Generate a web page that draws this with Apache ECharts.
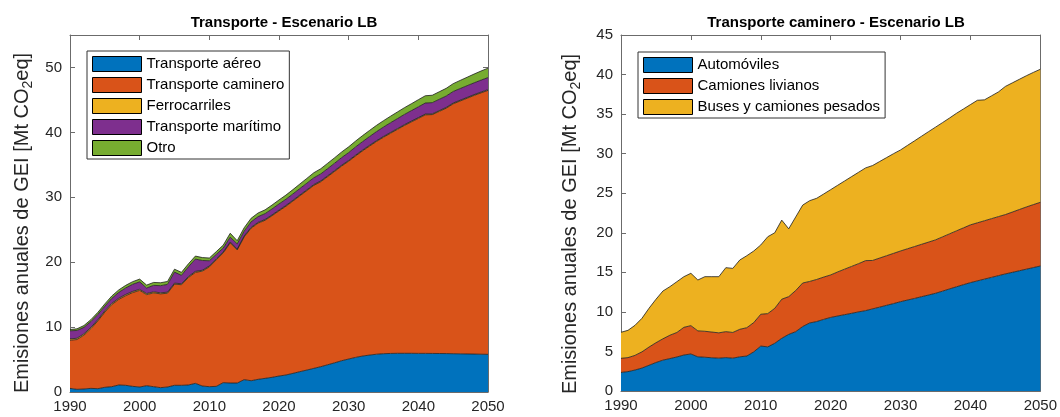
<!DOCTYPE html>
<html>
<head>
<meta charset="utf-8">
<script src="https://cdn.jsdelivr.net/npm/echarts@6/dist/echarts.min.js"></script>
<style>
  html, body { margin: 0; padding: 0; background: #ffffff; }
  #chart { width: 1060px; height: 417px; }
</style>
</head>
<body>
<div id="chart"></div>
<script>
// Years on the horizontal axis (1990 .. 2050, one point per year)
const years = Array.from({ length: 61 }, (_, i) => String(1990 + i));

// ---- Left panel: Transporte - Escenario LB (Mt CO2eq) ----
const transporteAereo = [
  0.56, 0.41, 0.46, 0.56, 0.51, 0.72, 0.82, 1.08, 1.03, 0.87,
  0.77, 0.97, 0.82, 0.67, 0.77, 1.03, 1.03, 1.08, 1.33, 0.92,
  0.82, 0.87, 1.44, 1.38, 1.38, 1.90, 1.74, 1.95, 2.10, 2.26,
  2.46, 2.62, 2.87, 3.13, 3.38, 3.64, 3.90, 4.20, 4.50, 4.82,
  5.08, 5.33, 5.54, 5.69, 5.82, 5.90, 5.94, 5.96, 5.96, 5.96,
  5.95, 5.95, 5.94, 5.93, 5.92, 5.90, 5.88, 5.86, 5.84, 5.82,
  5.80
];
const transporteCaminero = [
  7.42, 7.67, 8.30, 9.19, 10.45, 11.59, 12.64, 13.19, 13.82, 14.45,
  14.88, 14.03, 14.45, 14.45, 14.45, 15.59, 15.50, 16.56, 17.10, 17.70,
  18.46, 19.50, 20.00, 21.60, 20.50, 22.00, 23.50, 24.06, 24.36, 24.90,
  25.45, 26.00, 26.55, 27.10, 27.65, 28.20, 28.50, 29.00, 29.50, 30.00,
  30.47, 31.05, 31.62, 32.20, 32.78, 33.35, 33.92, 34.50, 35.10, 35.65,
  36.20, 36.75, 36.80, 37.30, 37.80, 38.50, 38.95, 39.40, 39.85, 40.27,
  40.67
];
const ferrocarriles = [
  0.20, 0.20, 0.20, 0.20, 0.19, 0.19, 0.19, 0.18, 0.18, 0.18,
  0.17, 0.17, 0.16, 0.16, 0.16, 0.15, 0.15, 0.15, 0.15, 0.14,
  0.14, 0.14, 0.14, 0.13, 0.13, 0.13, 0.13, 0.13, 0.12, 0.12,
  0.12, 0.12, 0.12, 0.12, 0.12, 0.12, 0.12, 0.12, 0.12, 0.12,
  0.12, 0.12, 0.12, 0.12, 0.12, 0.12, 0.12, 0.12, 0.12, 0.12,
  0.12, 0.12, 0.12, 0.12, 0.12, 0.12, 0.12, 0.12, 0.12, 0.12,
  0.12
];
const transporteMaritimo = [
  1.25, 1.20, 1.00, 0.90, 0.80, 0.72, 0.78, 0.90, 1.00, 1.10,
  1.15, 0.85, 1.00, 1.10, 1.20, 1.70, 1.30, 1.50, 1.90, 1.50,
  0.80, 0.70, 0.60, 0.75, 0.80, 0.75, 0.85, 0.88, 0.90, 0.92,
  0.94, 0.96, 0.98, 1.00, 1.02, 1.05, 1.08, 1.11, 1.14, 1.18,
  1.22, 1.26, 1.30, 1.35, 1.40, 1.45, 1.50, 1.54, 1.58, 1.62,
  1.66, 1.70, 1.72, 1.74, 1.76, 1.78, 1.80, 1.81, 1.82, 1.84,
  1.85
];
const otro = [
  0.20, 0.25, 0.28, 0.30, 0.32, 0.35, 0.36, 0.38, 0.40, 0.40,
  0.42, 0.45, 0.45, 0.45, 0.45, 0.45, 0.45, 0.46, 0.46, 0.45,
  0.42, 0.42, 0.45, 0.60, 0.50, 0.52, 0.55, 0.56, 0.58, 0.60,
  0.62, 0.64, 0.66, 0.70, 0.74, 0.77, 0.80, 0.82, 0.84, 0.86,
  0.88, 0.90, 0.92, 0.94, 0.96, 0.98, 1.00, 1.02, 1.04, 1.06,
  1.10, 1.12, 1.14, 1.16, 1.18, 1.20, 1.25, 1.30, 1.35, 1.40,
  1.45
];

// ---- Right panel: Transporte caminero - Escenario LB (Mt CO2eq) ----
const automoviles = [
  2.35, 2.45, 2.65, 2.90, 3.25, 3.60, 3.90, 4.10, 4.30, 4.55,
  4.68, 4.32, 4.27, 4.20, 4.15, 4.22, 4.15, 4.32, 4.42, 4.95,
  5.68, 5.58, 6.03, 6.66, 7.16, 7.50, 8.15, 8.60, 8.78, 9.05,
  9.30, 9.48, 9.65, 9.82, 10.00, 10.16, 10.38, 10.60, 10.83, 11.05,
  11.29, 11.50, 11.70, 11.92, 12.13, 12.35, 12.62, 12.90, 13.17, 13.44,
  13.70, 13.92, 14.14, 14.36, 14.58, 14.80, 15.00, 15.20, 15.40, 15.60,
  15.80
];
const camionesLivianos = [
  1.78, 1.77, 1.85, 2.05, 2.30, 2.50, 2.70, 2.95, 3.10, 3.50,
  3.58, 3.28, 3.28, 3.25, 3.20, 3.28, 3.25, 3.48, 3.58, 3.70,
  4.02, 4.20, 4.42, 4.94, 4.77, 5.20, 5.50, 5.25, 5.32, 5.35,
  5.37, 5.57, 5.75, 5.93, 6.10, 6.32, 6.12, 6.20, 6.27, 6.35,
  6.41, 6.48, 6.56, 6.62, 6.69, 6.75, 6.86, 6.96, 7.07, 7.18,
  7.30, 7.34, 7.38, 7.42, 7.46, 7.50, 7.62, 7.74, 7.86, 7.96,
  8.05
];
const busesCamionesPesados = [
  3.29, 3.45, 3.80, 4.24, 4.90, 5.49, 6.04, 6.14, 6.42, 6.40,
  6.62, 6.43, 6.90, 7.00, 7.10, 8.09, 8.10, 8.76, 9.10, 9.05,
  8.76, 9.72, 9.55, 10.00, 8.57, 9.30, 9.85, 10.21, 10.26, 10.50,
  10.78, 10.95, 11.15, 11.35, 11.55, 11.72, 12.00, 12.20, 12.40, 12.60,
  12.77, 13.07, 13.36, 13.66, 13.96, 14.25, 14.44, 14.64, 14.86, 15.03,
  15.20, 15.49, 15.28, 15.52, 15.76, 16.20, 16.33, 16.46, 16.59, 16.71,
  16.82
];

const leftNames = ['Transporte aéreo', 'Transporte caminero', 'Ferrocarriles', 'Transporte marítimo', 'Otro'];
const leftValues = [transporteAereo, transporteCaminero, ferrocarriles, transporteMaritimo, otro];
const rightNames = ['Automóviles', 'Camiones livianos', 'Buses y camiones pesados'];
const rightValues = [automoviles, camionesLivianos, busesCamionesPesados];

const leftTitle = 'Transporte - Escenario LB';
const rightTitle = 'Transporte caminero - Escenario LB';

// Styling
const FONT = '"Liberation Sans", Arial, Helvetica, sans-serif';
const TEXT = '#262626';
const AXIS = '#6b6b6b';
const EDGE = '#1e1e1e';
const COLORS = ['#0072BD', '#D95319', '#EDB120', '#7E2F8E', '#77AC30'];

const chart = echarts.init(document.getElementById('chart'), null, { renderer: 'canvas' });

// Year axis: one category per year, a tick and a label every ten years
function xAxisDef(gridIndex, position, showLabels) {
  return {
    type: 'category', gridIndex: gridIndex, position: position,
    data: years, boundaryGap: false,
    axisLine: { show: true, onZero: false, lineStyle: { color: AXIS, width: 1 } },
    axisTick: { show: true, inside: true, length: 5, interval: 9, lineStyle: { color: AXIS, width: 1 } },
    axisLabel: { show: showLabels, interval: 9, color: TEXT, fontSize: 15, fontFamily: FONT, margin: 7 },
    splitLine: { show: false }
  };
}
function yAxisDef(gridIndex, position, showLabels, max, interval) {
  return {
    type: 'value', gridIndex: gridIndex, position: position,
    min: 0, max: max, interval: interval,
    axisLine: { show: true, onZero: false, lineStyle: { color: AXIS, width: 1 } },
    axisTick: { show: true, inside: true, length: 5, lineStyle: { color: AXIS, width: 1 } },
    axisLabel: {
      show: showLabels, color: TEXT, fontSize: 15, fontFamily: FONT, margin: 8,
      formatter: function (v) { return (v % interval === 0) ? String(v) : ''; }
    },
    splitLine: { show: false }
  };
}

function stackedSeries(names, values, stackId, xIdx, yIdx) {
  return names.map(function (name, k) {
    return {
      name: name, type: 'line', stack: stackId,
      xAxisIndex: xIdx, yAxisIndex: yIdx,
      data: values[k],
      symbol: 'none', smooth: false,
      color: COLORS[k],
      itemStyle: { color: COLORS[k] },
      lineStyle: { color: EDGE, width: 0.8 },
      areaStyle: { color: COLORS[k], opacity: 1 },
      emphasis: { disabled: true },
      silent: true,
      animation: false
    };
  });
}

function legendDef(names, left, top) {
  return {
    data: names, orient: 'vertical', left: left, top: top,
    icon: 'rect', itemWidth: 49, itemHeight: 15, itemGap: 5,
    padding: [5, 5, 3, 5],
    backgroundColor: '#ffffff', borderColor: '#333333', borderWidth: 1,
    itemStyle: { borderColor: '#000000', borderWidth: 1 },
    textStyle: { fontSize: 15, color: '#000000', fontFamily: FONT },
    selectedMode: false
  };
}

const yLabelRich = {
  a: { fontSize: 20, fontFamily: FONT, fill: TEXT, verticalAlign: 'middle', lineHeight: 27 },
  s: { fontSize: 14, fontFamily: FONT, fill: TEXT, verticalAlign: 'bottom' }
};
const yLabelText = '{a|Emisiones anuales de GEI [Mt CO}{s|2}{a|eq]}';

const option = {
  animation: false,
  backgroundColor: '#ffffff',
  title: [
    { text: leftTitle, left: 279, top: 10, textAlign: 'center',
      textStyle: { fontSize: 15, fontWeight: 'bold', color: '#000', fontFamily: FONT } },
    { text: rightTitle, left: 831, top: 10, textAlign: 'center',
      textStyle: { fontSize: 15, fontWeight: 'bold', color: '#000', fontFamily: FONT } }
  ],
  grid: [
    { left: 70, top: 35, width: 418, height: 357, containLabel: false },
    { left: 621, top: 35, width: 420, height: 356, containLabel: false }
  ],
  xAxis: [
    xAxisDef(0, 'bottom', true),
    xAxisDef(0, 'top', false),
    xAxisDef(1, 'bottom', true),
    xAxisDef(1, 'top', false)
  ],
  yAxis: [
    yAxisDef(0, 'left', true, 55, 10),
    yAxisDef(0, 'right', false, 55, 10),
    yAxisDef(1, 'left', true, 45, 5),
    yAxisDef(1, 'right', false, 45, 5)
  ],
  legend: [
    legendDef(leftNames, 87, 51),
    legendDef(rightNames, 638, 52)
  ],
  graphic: [
    { type: 'text', x: 22, y: 223, rotation: Math.PI / 2,
      style: { text: yLabelText, rich: yLabelRich, align: 'center', verticalAlign: 'middle' } },
    { type: 'text', x: 570, y: 224, rotation: Math.PI / 2,
      style: { text: yLabelText, rich: yLabelRich, align: 'center', verticalAlign: 'middle' } }
  ],
  series: [].concat(
    stackedSeries(leftNames, leftValues, 'izq', 0, 0),
    stackedSeries(rightNames, rightValues, 'der', 2, 2)
  )
};

chart.setOption(option);
</script>
</body>
</html>
